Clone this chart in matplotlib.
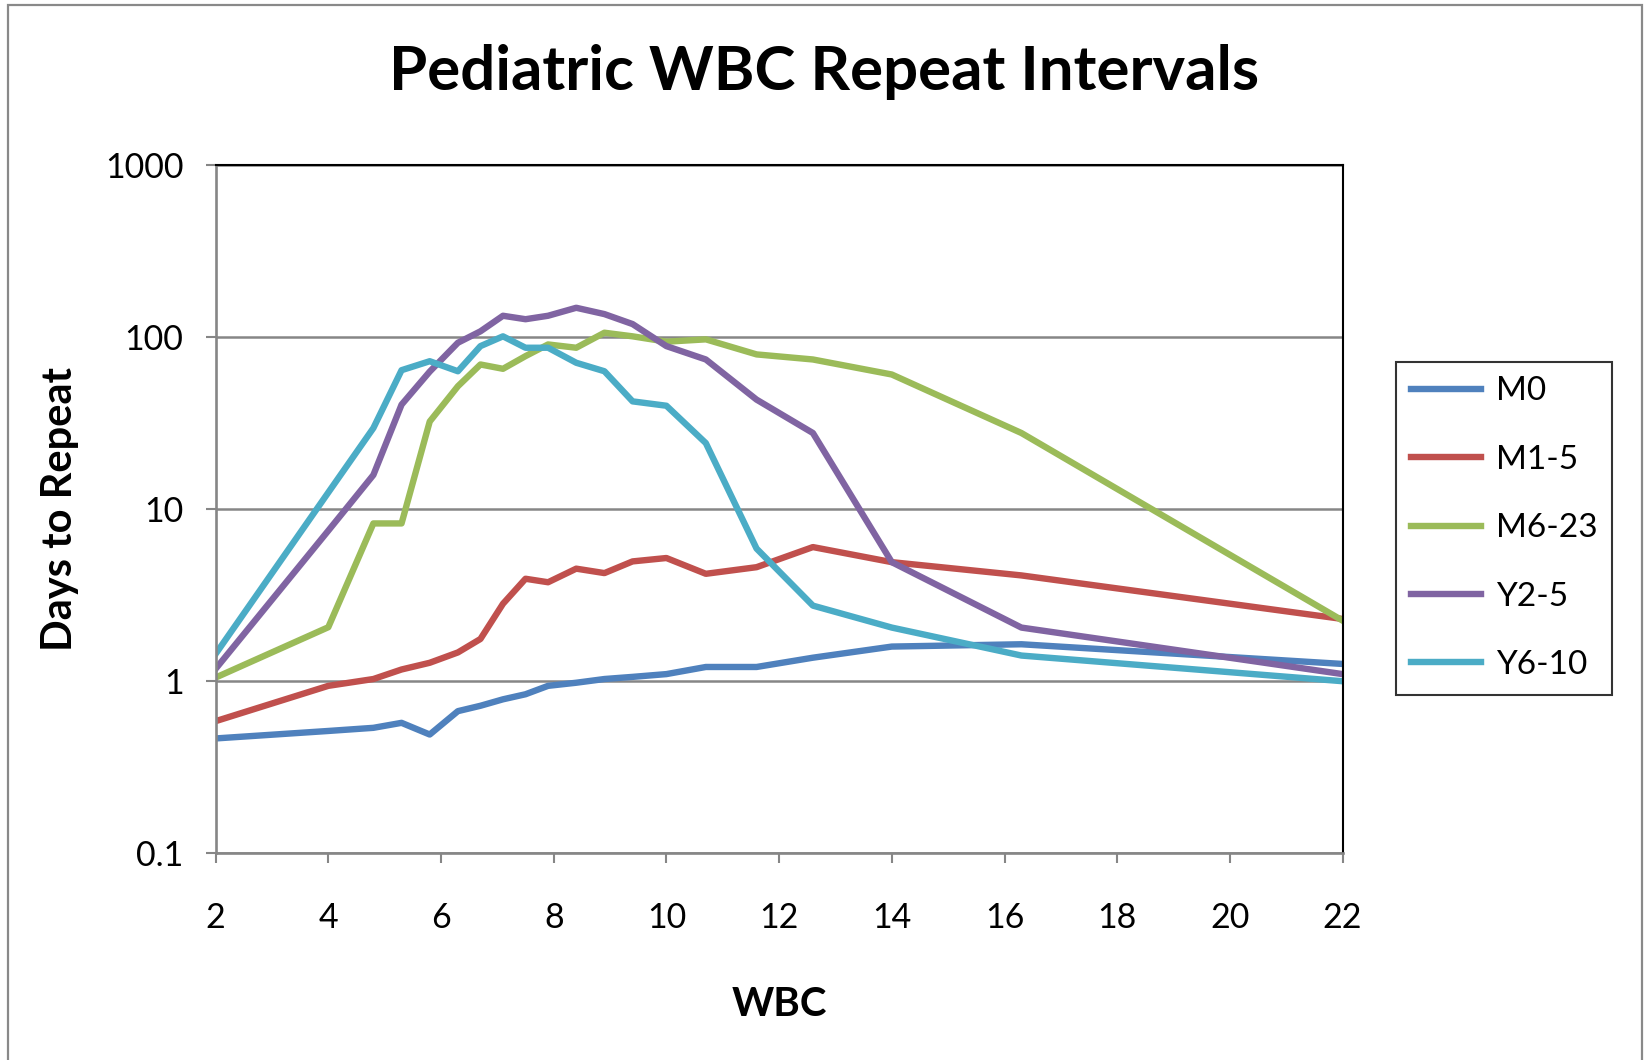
import matplotlib
matplotlib.use("Agg")
import matplotlib.pyplot as plt
from matplotlib.patches import Rectangle
from matplotlib.ticker import NullLocator

plt.rcParams['font.family'] = ['Lato', 'DejaVu Sans']

# WBC values (x) shared by all series
wbc = [2, 4, 4.8, 5.3, 5.8, 6.3, 6.7, 7.1, 7.5, 7.9, 8.4, 8.9, 9.4, 10,
       10.7, 11.6, 12.6, 14, 16.3, 22]

# days to repeat, per age group
m0 = [0.465, 0.514, 0.536, 0.573, 0.49, 0.67, 0.72, 0.785, 0.84, 0.94,
      0.98, 1.03, 1.06, 1.1, 1.21, 1.21, 1.37, 1.59, 1.64, 1.26]
m1_5 = [0.586, 0.94, 1.03, 1.17, 1.28, 1.47, 1.76, 2.82, 3.94, 3.76,
        4.51, 4.25, 4.97, 5.2, 4.21, 4.6, 6.02, 4.92, 4.12, 2.3]
m6_23 = [1.05, 2.06, 8.26, 8.26, 32.3, 51.8, 69.3, 65.4, 77.5, 90.6,
         86.7, 106, 101, 94, 97, 79.3, 74.1, 60.6, 27.7, 2.25]
y2_5 = [1.18, 7.5, 15.8, 40.5, 63, 92.7, 108, 133, 127, 133,
        148, 136, 119, 88.6, 74.1, 43.3, 27.7, 4.92, 2.05, 1.1]
y6_10 = [1.44, 12.5, 29.6, 64.2, 72.4, 63.3, 88.6, 101, 86.7, 86.7,
         70.9, 63.3, 42.3, 39.9, 24.2, 5.9, 2.75, 2.05, 1.41, 1.0]

series_names = ['M0', 'M1-5', 'M6-23', 'Y2-5', 'Y6-10']
series_values = [m0, m1_5, m6_23, y2_5, y6_10]
colors = ['#4F81BD', '#C0504D', '#9BBB59', '#8064A2', '#4BACC6']

y_ticks = [0.1, 1, 10, 100, 1000]
y_tick_labels = ['0.1', '1', '10', '100', '1000']
x_ticks = list(range(2, 23, 2))

W, H = 1649, 1060
fig = plt.figure(figsize=(W / 100, H / 100), dpi=100)

# outer chart border
fig.patches.append(Rectangle((8 / W, -0.01), 1634 / W, 1 - 5 / H + 0.01,
                             transform=fig.transFigure, fill=False,
                             edgecolor='#898989', linewidth=1.6))

ax = fig.add_axes([215.6 / W, 1 - 853.3 / H, 1127 / W, 688.3 / H])

for name, vals, c in zip(series_names, series_values, colors):
    ax.plot(wbc, vals, color=c, linewidth=4.6, label=name,
            solid_joinstyle='round')

ax.set_yscale('log')
ax.set_ylim(0.1, 1000)
ax.set_xlim(2, 22)
ax.set_yticks(y_ticks)
ax.set_yticklabels(y_tick_labels)
ax.yaxis.set_minor_locator(NullLocator())
ax.set_xticks(x_ticks)

ax.grid(True, axis='y', color='#868686', linewidth=1.8)
ax.set_axisbelow(True)

for side in ['left', 'bottom']:
    ax.spines[side].set_color('#868686')
    ax.spines[side].set_linewidth(1.9)
for side in ['top', 'right']:
    ax.spines[side].set_color('black')
    ax.spines[side].set_linewidth(1.5)

ax.tick_params(axis='both', direction='out', length=7.2, width=1.5,
               color='#868686', labelsize=24.5, labelcolor='black')
ax.tick_params(axis='y', pad=16)
ax.tick_params(axis='x', pad=28)

ax.set_xlabel('WBC', fontsize=29, fontweight='bold', va='center')
ax.xaxis.set_label_coords(0.5, -0.219)
ax.set_ylabel('Days to Repeat', fontsize=30, fontweight='bold', va='center')
ax.yaxis.set_label_coords(-0.138, 0.5)

fig.text(0.5, 1 - 90 / H, 'Pediatric WBC Repeat Intervals', ha='center',
         va='baseline', fontsize=44.5, fontweight='bold')

leg = ax.legend(loc='upper left', bbox_to_anchor=(1395.7 / W, 1 - 361.5 / H),
                bbox_transform=fig.transFigure, fontsize=24, handlelength=2.1,
                handletextpad=0.45, labelspacing=1.15, borderpad=0.45,
                borderaxespad=0, fancybox=False)
leg.get_frame().set_edgecolor('black')
leg.get_frame().set_linewidth(1.5)

fig.savefig('out.png', dpi=100)
